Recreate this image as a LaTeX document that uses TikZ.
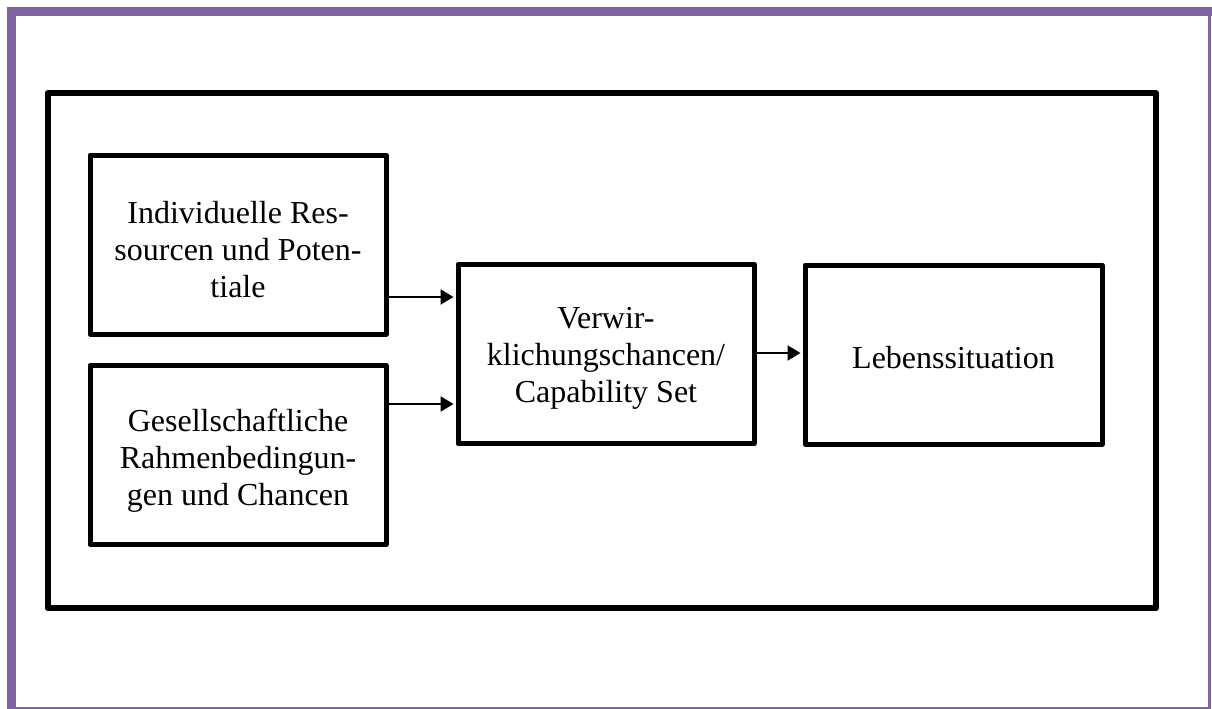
\documentclass[tikz,border=0pt]{standalone}
\usepackage{fontspec}
\setmainfont{Liberation Serif}
\usetikzlibrary{arrows.meta}
\definecolor{framepurple}{HTML}{8064A2}
\begin{document}
\begin{tikzpicture}[x=1pt,y=-1pt,
  box/.style={draw=black,line width=5pt,line join=round,rectangle,inner sep=0pt,fill=white},
  boxtext/.style={align=center,inner sep=0pt,font=\fontsize{32}{37}\selectfont},
  arr/.style={line width=2pt,-{Triangle[length=13pt,width=15pt]},shorten >=2pt}]
\useasboundingbox (0,0) rectangle (1212,709);
% purple page frame
\fill[framepurple] (7,7) rectangle (1212,16);
\fill[framepurple] (7,7) rectangle (16,709);
\fill[framepurple] (1208,7) rectangle (1211,709);
\fill[framepurple] (7,706.5) rectangle (1211,709);
% outer black frame
\node[draw=black,line width=6pt,line join=round,minimum width=1108.5pt,minimum height=515pt,inner sep=0pt] (outer) at (601.75,350.5) {};
% boxes
\node[box,minimum width=296pt,minimum height=179pt] (b1) at (238,244.5) {};
\node[box,minimum width=296pt,minimum height=179pt] (b2) at (238,455) {};
\node[box,minimum width=296pt,minimum height=179.5pt] (mid) at (606,354) {};
\node[box,minimum width=297pt,minimum height=179pt] (res) at (953.5,354.5) {};
% texts
\node[boxtext,yshift=-5pt] (t1) at (b1.center) {Individuelle Res-\\sourcen und Poten-\\tiale};
\node[boxtext,yshift=-6pt] (t2) at (b2.center) {Gesellschaftliche\\Rahmenbedingun-\\gen und Chancen};
\node[boxtext,yshift=-4pt] (tm) at (mid.center) {Verwir-\\klichungschancen/\\Capability Set};
\node[boxtext,yshift=-3pt] (tr) at (res.center) {Lebenssituation};
% arrow rows
\coordinate (r1) at (0,297);
\coordinate (r2) at (0,404);
\coordinate (r3) at (0,353);
\draw[arr] (b1.east |- r1) -- (mid.west |- r1);
\draw[arr] (b2.east |- r2) -- (mid.west |- r2);
\draw[arr] (mid.east |- r3) -- (res.west |- r3);
\end{tikzpicture}
\end{document}
